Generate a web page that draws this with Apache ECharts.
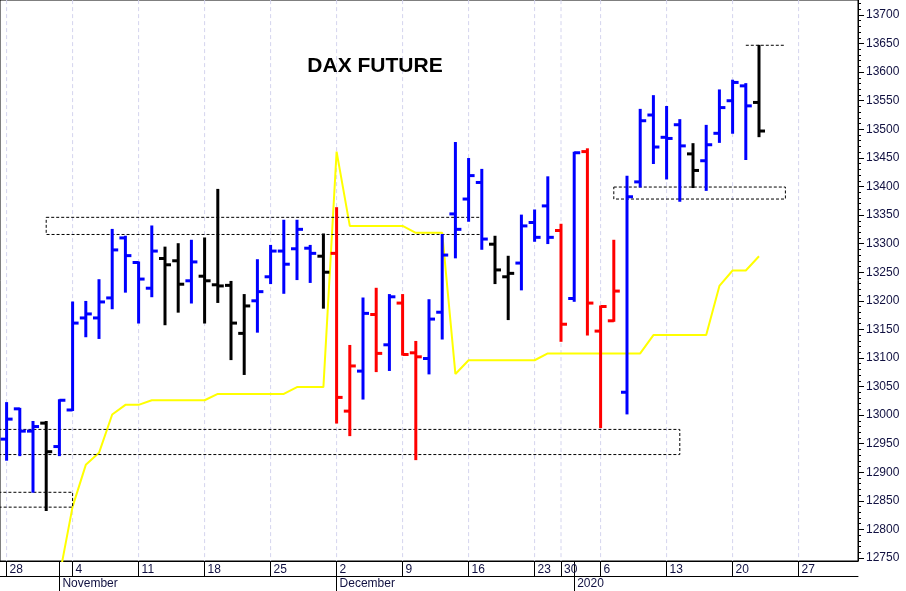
<!DOCTYPE html>
<html><head><meta charset="utf-8">
<script src="https://cdn.jsdelivr.net/npm/echarts@6/dist/echarts.min.js"></script>
<style>html,body{margin:0;padding:0;background:#fff}#c{width:906px;height:591px}</style>
</head><body><div id="c"></div>
<script>
// trading days (day-of-month labels), Oct 28 2019 .. Jan 31 2020
const days = ['28','29','30','31','1','4','5','6','7','8','11','12','13','14','15','18','19','20','21','22','25','26','27','28','29',
 '2','3','4','5','6','9','10','11','12','13','16','17','18','19','20','23','27','30','2','3','6','7','8','9','10','13','14','15','16','17',
 '20','21','22','23','24','27','28','29','30','31'];
const weekStarts = [0,5,10,15,20,25,30,35,40,42,45,50,55,60];
const monthStarts = {4:'November',25:'December',43:'2020'};
const yTicks = [12750,12800,12850,12900,12950,13000,13050,13100,13150,13200,13250,13300,13350,13400,13450,13500,13550,13600,13650,13700];

const open  = [12958,13011,12972,12986,12945,13009,13170,13170,13205,13310,13267,13222,13274,13270,13235,13243,13228,13227,13143,13200,13242,13287,13291,13292,13278,
 13283,13007,13077,13176,13123,13196,13109,13099,13180,13352,13378,13407,13299,13242,13266,13337,13366,13323,13204,13461,13147,13165,13040,13408,13525,13486,13508,13457,13445,13493,13550,13576,13547];
const high  = [13021,13011,12988,12988,13026,13197,13198,13236,13324,13312,13267,13330,13293,13299,13305,13309,13394,13233,13210,13271,13296,13340,13340,13296,13316,
 13362,13121,13204,13221,13210,13210,13128,13201,13315,13476,13448,13429,13312,13277,13349,13358,13416,13333,13459,13465,13190,13305,13417,13534,13558,13539,13516,13474,13506,13568,13585,13579,13646];
const low   = [12922,12930,12866,12834,12930,13009,13138,13135,13187,13216,13162,13208,13159,13181,13197,13162,13198,13098,13072,13146,13231,13214,13238,13233,13188,
 12987,12965,13029,13077,13079,13106,12923,13073,13134,13276,13340,13291,13231,13168,13220,13305,13301,13130,13200,13141,12979,13165,13003,13400,13441,13414,13375,13399,13394,13478,13494,13448,13488];
const close = [12993,12972,12980,12936,13026,13161,13177,13198,13289,13279,13238,13287,13263,13229,13268,13235,13226,13161,13191,13216,13287,13264,13325,13283,13250,
 13031,13086,13178,13108,13207,13106,13102,13168,13280,13325,13419,13308,13254,13248,13331,13311,13311,13159,13459,13196,13190,13217,13382,13515,13469,13484,13471,13428,13473,13538,13582,13541,13497];
const barColor = ['B','B','B','K','B','B','B','B','B','B','B','B','K','K','B','K','K','K','K','B','B','B','B','B','K',
 'R','R','B','R','B','R','R','B','B','B','B','B','K','K','B','B','B','R','B','R','R','R','B','B','B','B','B','K','B','B','B','B','K'];
const yellow = [null,null,null,null,12718,12840,12913,12934,13001,13018,13018,13026,13026,13026,13026,13026,13037,13037,13037,13037,13037,13037,13049,13049,13049,
 13461,13331,13331,13331,13331,13331,13319,13319,13319,13072,13096,13096,13096,13096,13096,13096,13108,13108,13108,13108,13108,13108,13108,13108,13140,13140,13140,13140,13140,13226,13253,13253,13278];
// dashed zones: [fromIndex, toIndex, lowValue, highValue]
const zones = [[3,36,13316,13346],[-1,51,12931,12975],[-1,5,12839,12865],[46,59,13378,13399]];
const topLine = [56,59,13647];

const colMap = {B:'#0000ff',R:'#ff0000',K:'#000000'};
const ohlc = open.map((o,i)=>[i,o,high[i],low[i],close[i],barColor[i]]);
const minor = []; for (let v=12750; v<=13720; v+=10) minor.push(v);
const F = 'Liberation Sans, Arial';

const chart = echarts.init(document.getElementById('c'));
chart.setOption({
  animation:false,
  title:{text:'DAX FUTURE',left:370,top:51,textAlign:'center',textStyle:{fontFamily:F,fontWeight:'bold',fontSize:21,color:'#000'}},
  grid:{left:0,right:48,top:0,bottom:30,show:true,borderColor:'#000',borderWidth:1},
  xAxis:[{type:'category',data:days,boundaryGap:true,
    axisLine:{lineStyle:{color:'#000'}},
    axisTick:{show:true,alignWithLabel:true,length:15,lineStyle:{color:'#000'},
      interval:(i)=>weekStarts.includes(i)||monthStarts[i]!==undefined},
    axisLabel:{interval:(i)=>weekStarts.includes(i),align:'left',padding:[0,0,0,3],margin:3,
      fontFamily:F,fontSize:12,color:'#101040'},
    splitLine:{show:false}},
   {type:'category',data:days.map((d,i)=>monthStarts[i]||''),boundaryGap:true,position:'bottom',offset:15,
    axisLine:{show:true,lineStyle:{color:'#000'}},
    axisTick:{show:true,alignWithLabel:true,length:15,lineStyle:{color:'#000'},interval:(i)=>monthStarts[i]!==undefined},
    axisLabel:{interval:(i)=>monthStarts[i]!==undefined,align:'left',padding:[0,0,0,3],margin:2,
      fontFamily:F,fontSize:12,color:'#101040'}}],
  yAxis:[{type:'value',position:'right',min:12744.8,max:13726.2,
    axisLine:{show:true,lineStyle:{color:'#000'}},
    axisTick:{show:true,customValues:yTicks,length:6,lineStyle:{color:'#000'}},
    axisLabel:{customValues:yTicks,formatter:(v)=>String(v),margin:8,fontFamily:F,fontSize:12,color:'#101040'},
    splitLine:{show:false}},
   {type:'value',position:'right',min:12744.8,max:13726.2,
    axisLine:{show:false},
    axisTick:{show:true,customValues:minor,length:3,lineStyle:{color:'#000'}},
    axisLabel:{show:false},splitLine:{show:false}}],
  series:[
   {type:'custom',data:weekStarts.map(w=>[w,13000]),encode:{x:0,y:1},clip:true,z:1,
    renderItem:(p,api)=>{const a=api.coord([api.value(0),13726]),b=api.coord([api.value(0),12744.8]);
      return {type:'line',shape:{x1:a[0],y1:a[1],x2:b[0],y2:b[1]},style:{stroke:'#d4d4ee',lineWidth:1,lineDash:[4,3]}};}},
   {type:'line',data:yellow,showSymbol:false,symbol:'none',lineStyle:{color:'#ffff00',width:2},z:2,silent:true},
   {type:'custom',data:zones,encode:{x:[0,1],y:[2,3]},clip:true,z:3,
    renderItem:(p,api)=>{const a=api.coord([api.value(0),api.value(3)]),b=api.coord([api.value(1),api.value(2)]);
      return {type:'rect',shape:{x:a[0],y:a[1],width:b[0]-a[0],height:b[1]-a[1]},style:{fill:'none',stroke:'#000',lineWidth:1,lineDash:[3,2]}};}},
   {type:'custom',data:[topLine],encode:{x:[0,1],y:2},clip:true,z:3,
    renderItem:(p,api)=>{const a=api.coord([api.value(0),api.value(2)]),b=api.coord([api.value(1),api.value(2)]);
      return {type:'line',shape:{x1:a[0],y1:a[1],x2:b[0],y2:b[1]},style:{stroke:'#000',lineWidth:1,lineDash:[3,2]}};}},
   {type:'custom',data:ohlc,encode:{x:0,y:[1,2,3,4]},clip:true,z:5,
    renderItem:(p,api)=>{const i=api.value(0);
      const h=api.coord([i,api.value(2)]),l=api.coord([i,api.value(3)]),o=api.coord([i,api.value(1)]),c=api.coord([i,api.value(4)]);
      const col=colMap[ohlc[p.dataIndex][5]];const st={stroke:col,lineWidth:3};
      return {type:'group',children:[
        {type:'line',shape:{x1:h[0],y1:h[1]-1,x2:l[0],y2:l[1]+1},style:st},
        {type:'line',shape:{x1:o[0]-6,y1:o[1],x2:o[0],y2:o[1]},style:st},
        {type:'line',shape:{x1:c[0],y1:c[1],x2:c[0]+6,y2:c[1]},style:st}]};}}
  ]
});
</script></body></html>
